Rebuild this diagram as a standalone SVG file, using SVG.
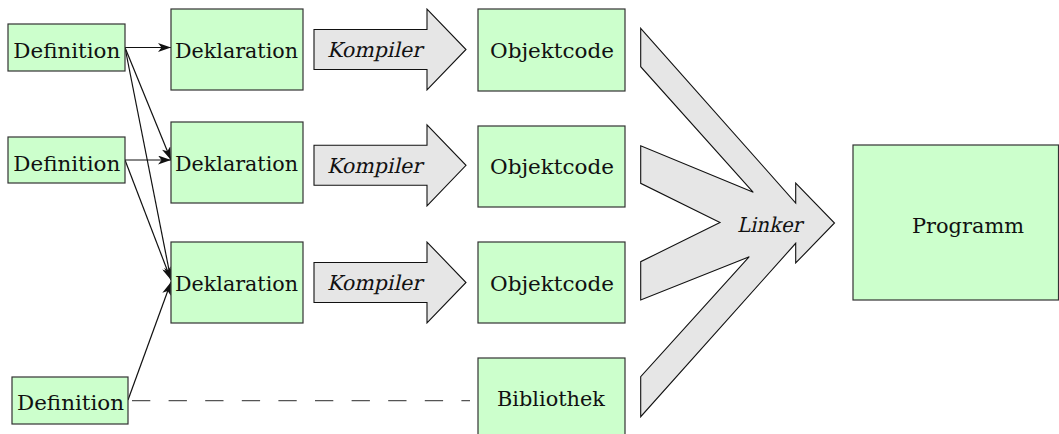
<svg xmlns="http://www.w3.org/2000/svg" width="1059" height="434" viewBox="0 0 1059 434">
  <defs>
    <style>
      .box { fill: #ccffcc; stroke: #333333; stroke-width: 1.2; }
      .big { fill: #e6e6e6; stroke: #111111; stroke-width: 1.1; stroke-linejoin: miter; }
      .t { font-family: 'DejaVu Serif', 'Liberation Serif', serif; font-size: 20.5px; fill: #111111; }
      .conn { fill: none; stroke: #111111; stroke-width: 1.2; }
      .dash { fill: none; stroke: #555555; stroke-width: 1.3; stroke-dasharray: 18.3 18.3; }
    </style>
    <marker id="arr" viewBox="0 0 13 9" refX="13" refY="4.5" markerWidth="13" markerHeight="9" markerUnits="userSpaceOnUse" orient="auto">
      <path d="M0,0 L13,4.5 L0,9 L3.5,4.5 z" fill="#111111"/>
    </marker>
  </defs>
  <rect width="1059" height="434" fill="#ffffff"/>

  <g id="connectors">
    <path class="conn" d="M125,47.5 L171,47.5" marker-end="url(#arr)"/>
    <path class="conn" d="M125,47.5 L171,160" marker-end="url(#arr)"/>
    <path class="conn" d="M125,47.5 L171,280" marker-end="url(#arr)"/>
    <path class="conn" d="M125,160 L171,160" marker-end="url(#arr)"/>
    <path class="conn" d="M125,160 L171,280" marker-end="url(#arr)"/>
    <path class="conn" d="M128,400 L171,282" marker-end="url(#arr)"/>
    <path class="dash" d="M132,400.7 L470,400.7"/>
  </g>

  <g id="definition1">
    <rect class="box" x="8" y="24" width="117" height="47"/>
    <text class="t" x="13.3" y="58.3" textLength="107" lengthAdjust="spacingAndGlyphs">Definition</text>
  </g>
  <g id="definition2">
    <rect class="box" x="8" y="137" width="117" height="46"/>
    <text class="t" x="13.3" y="171.3" textLength="107" lengthAdjust="spacingAndGlyphs">Definition</text>
  </g>
  <g id="definition3">
    <rect class="box" x="12" y="377" width="116" height="47"/>
    <text class="t" x="17" y="410" textLength="107" lengthAdjust="spacingAndGlyphs">Definition</text>
  </g>

  <g id="deklaration1">
    <rect class="box" x="171" y="9" width="132" height="81"/>
    <text class="t" x="175" y="58.3" textLength="123" lengthAdjust="spacingAndGlyphs">Deklaration</text>
  </g>
  <g id="deklaration2">
    <rect class="box" x="171" y="122" width="132" height="81"/>
    <text class="t" x="175" y="171.3" textLength="123" lengthAdjust="spacingAndGlyphs">Deklaration</text>
  </g>
  <g id="deklaration3">
    <rect class="box" x="171" y="242" width="132" height="81"/>
    <text class="t" x="175" y="291.3" textLength="123" lengthAdjust="spacingAndGlyphs">Deklaration</text>
  </g>

  <g id="kompiler1">
    <path class="big" d="M314,29.5 L427,29.5 L427,9 L466,49.5 L427,90 L427,69.5 L314,69.5 Z"/>
    <text class="t" transform="translate(327,57.3) skewX(-13)" x="0" y="0" textLength="95" lengthAdjust="spacingAndGlyphs">Kompiler</text>
  </g>
  <g id="kompiler2">
    <path class="big" d="M314,145.3 L427,145.3 L427,124.8 L466,165.3 L427,205.8 L427,185.3 L314,185.3 Z"/>
    <text class="t" transform="translate(327,173) skewX(-13)" x="0" y="0" textLength="95" lengthAdjust="spacingAndGlyphs">Kompiler</text>
  </g>
  <g id="kompiler3">
    <path class="big" d="M314,262.5 L427,262.5 L427,242 L466,282.5 L427,323 L427,302.5 L314,302.5 Z"/>
    <text class="t" transform="translate(327,290.3) skewX(-13)" x="0" y="0" textLength="95" lengthAdjust="spacingAndGlyphs">Kompiler</text>
  </g>

  <g id="objektcode1">
    <rect class="box" x="478" y="9" width="147" height="82"/>
    <text class="t" x="490" y="58" textLength="124" lengthAdjust="spacingAndGlyphs">Objektcode</text>
  </g>
  <g id="objektcode2">
    <rect class="box" x="478" y="126" width="147" height="81"/>
    <text class="t" x="490" y="174" textLength="124" lengthAdjust="spacingAndGlyphs">Objektcode</text>
  </g>
  <g id="objektcode3">
    <rect class="box" x="478" y="242" width="147" height="81"/>
    <text class="t" x="490" y="291" textLength="124" lengthAdjust="spacingAndGlyphs">Objektcode</text>
  </g>
  <g id="bibliothek">
    <rect class="box" x="478" y="358" width="147" height="90"/>
    <text class="t" x="497" y="406" textLength="108" lengthAdjust="spacingAndGlyphs">Bibliothek</text>
  </g>

  <g id="linker">
    <path class="big" d="M640.7,28.3 L795.7,203 L795.7,183 L834.5,223 L795.7,263 L795.7,243.3 L640.7,416.7 L640.7,376.7 L749.3,256.7 L640.7,300 L640.7,261.7 L720,222.5 L640.7,183.3 L640.7,145.7 L753.3,192.3 L640.7,66.7 Z"/>
    <text class="t" transform="translate(737,231.7) skewX(-13)" x="0" y="0" textLength="65" lengthAdjust="spacingAndGlyphs">Linker</text>
  </g>

  <g id="programm">
    <rect class="box" x="853" y="145" width="205.5" height="155"/>
    <text class="t" x="912" y="233" textLength="112" lengthAdjust="spacingAndGlyphs">Programm</text>
  </g>
</svg>
